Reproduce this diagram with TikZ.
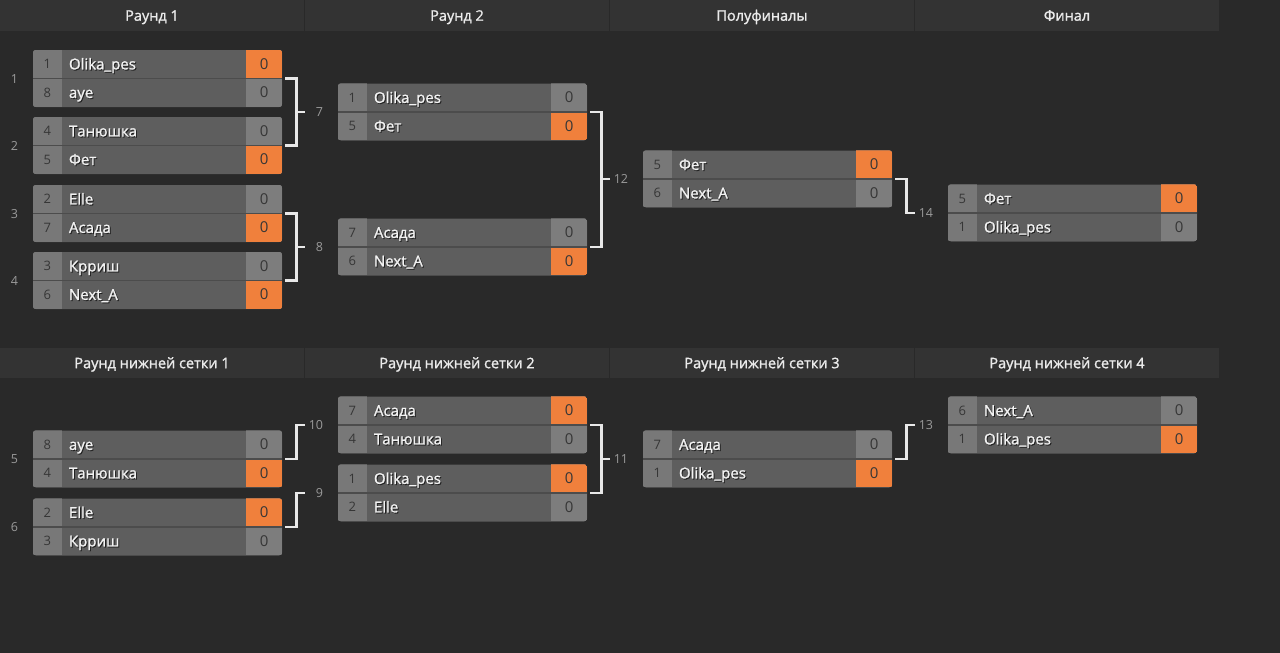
\documentclass[tikz,border=0pt]{standalone}
\usepackage{fontspec}
\setmainfont{Open Sans}
\newfontfamily\headfont{Open Sans}[FakeBold=1.4]
\usetikzlibrary{calc,positioning}
\usepackage{xcolor}
\definecolor{bg}{HTML}{292929}
\definecolor{headbg}{HTML}{333333}
\definecolor{cellname}{HTML}{5E5E5E}
\definecolor{cellseed}{HTML}{787878}
\definecolor{cellscore}{HTML}{7D7D7D}
\definecolor{winner}{HTML}{F0803C}
\definecolor{celltext}{HTML}{363636}
\definecolor{numtext}{HTML}{9A9A9A}
\definecolor{rowline}{HTML}{4C4C4C}
\definecolor{linkcol}{HTML}{E8E8E8}

\begin{document}
\begin{tikzpicture}[x=1pt,y=-1pt,
  match/.style={minimum width=249pt,minimum height=57pt,inner sep=0,rounded corners=3pt,fill=cellname},
  head/.style={text=white!92!black,font=\headfont\fontsize{14.5}{16}\selectfont,inner sep=0,text height=10.4pt,text depth=0pt},
  seed/.style={text=celltext,font=\fontsize{13}{15}\selectfont,inner sep=0,text height=9.3pt,text depth=0pt},
  player/.style={anchor=west,text=white!95!black,font=\headfont\fontsize{15}{17}\selectfont,inner sep=0,text height=10.7pt,text depth=0pt},
  shade/.style={player,text=black,opacity=.55},
  score/.style={text=celltext,font=\fontsize{15}{17}\selectfont,inner sep=0,text height=10.7pt,text depth=0pt},
  num/.style={text=numtext,font=\fontsize{12.5}{14}\selectfont,inner sep=0,text height=9pt,text depth=0pt},
  link/.style={linkcol,line width=2.6pt}]
\useasboundingbox (0,0) rectangle (1280,653);
\fill[bg] (0,0) rectangle (1280,653);
% column headers
\foreach \t [count=\i from 0] in {Раунд 1,Раунд 2,Полуфиналы,Финал} {
 \fill[headbg] (\i*305,0) rectangle ++(304,31);
 \node[head] (h\i) at (\i*305+152,15.5) {\t};
}
\foreach \t [count=\i from 0] in {Раунд нижней сетки 1,Раунд нижней сетки 2,Раунд нижней сетки 3,Раунд нижней сетки 4} {
 \fill[headbg] (\i*305,348) rectangle ++(304,30);
 \node[head] (lh\i) at (\i*305+152,363) {\t};
}
% matches: id/x/y/seed/name/seed/name/winner row
\foreach \id/\cx/\cy/\sa/\na/\sb/\nb/\w in {
  1/157.5/78.5/1/Olika\_pes/8/aye/1, 2/157.5/145.5/4/Танюшка/5/Фет/2,
  3/157.5/213.5/2/Elle/7/Асада/2, 4/157.5/280.5/3/Крриш/6/Next\_A/2,
  7/462.5/112/1/Olika\_pes/5/Фет/2, 8/462.5/247/7/Асада/6/Next\_A/2,
  12/767.5/179/5/Фет/6/Next\_A/1, 14/1072.5/213/5/Фет/1/Olika\_pes/1,
  5/157.5/459/8/aye/4/Танюшка/2, 6/157.5/527/2/Elle/3/Крриш/1,
  10/462.5/425/7/Асада/4/Танюшка/1, 9/462.5/493/1/Olika\_pes/2/Elle/1,
  11/767.5/459/7/Асада/1/Olika\_pes/2, 13/1072.5/425/6/Next\_A/1/Olika\_pes/2} {
 \node[match] (m\id) at (\cx,\cy) {};
 \begin{scope}
  \clip[rounded corners=3pt] (m\id.south west) rectangle (m\id.north east);
  \fill[cellseed] (m\id.north west) rectangle ++(29,57);
  \fill[cellscore] (m\id.north east) rectangle ++(-36,57);
  \fill[winner] ($(m\id.north east)+(0,28.5*\w-28.5)$) rectangle ++(-36,28.5);
 \end{scope}
 \draw[rowline, line width=1.6pt] (m\id.west) -- (m\id.east);
 \node[seed] (m\id-sa) at ($(m\id.north west)+(14.5,14.25)$) {\sa};
 \node[seed] (m\id-sb) at ($(m\id.north west)+(14.5,42.75)$) {\sb};
 \node[shade] (m\id-ta) at ($(m\id.north west)+(37,15.25)$) {\na};
 \node[shade] (m\id-tb) at ($(m\id.north west)+(37,43.75)$) {\nb};
 \node[player] (m\id-na) at ($(m\id.north west)+(36,14.25)$) {\na};
 \node[player] (m\id-nb) at ($(m\id.north west)+(36,42.75)$) {\nb};
 \node[score] (m\id-pa) at ($(m\id.north east)+(-18,14.25)$) {0};
 \node[score] (m\id-pb) at ($(m\id.north east)+(-18,42.75)$) {0};
 \node[num, left=14.5pt of m\id] (n\id) {\id};
}
% brackets joining two matches
\foreach \a/\b/\c in {1/2/7,3/4/8,7/8/12,10/9/11} {
 \draw[link] ([xshift=3]m\a.east) -- ++(11,0) |- ([xshift=3]m\b.east);
 \draw[link] ([xshift=-42]m\c.west) -- ([xshift=-33]m\c.west);
}
% single links
\foreach \a/\c in {12/14,5/10,6/9,11/13} {
 \draw[link] ([xshift=3]m\a.east) -- ++(11,0) |- ([xshift=-33]m\c.west);
}
\end{tikzpicture}
\end{document}
